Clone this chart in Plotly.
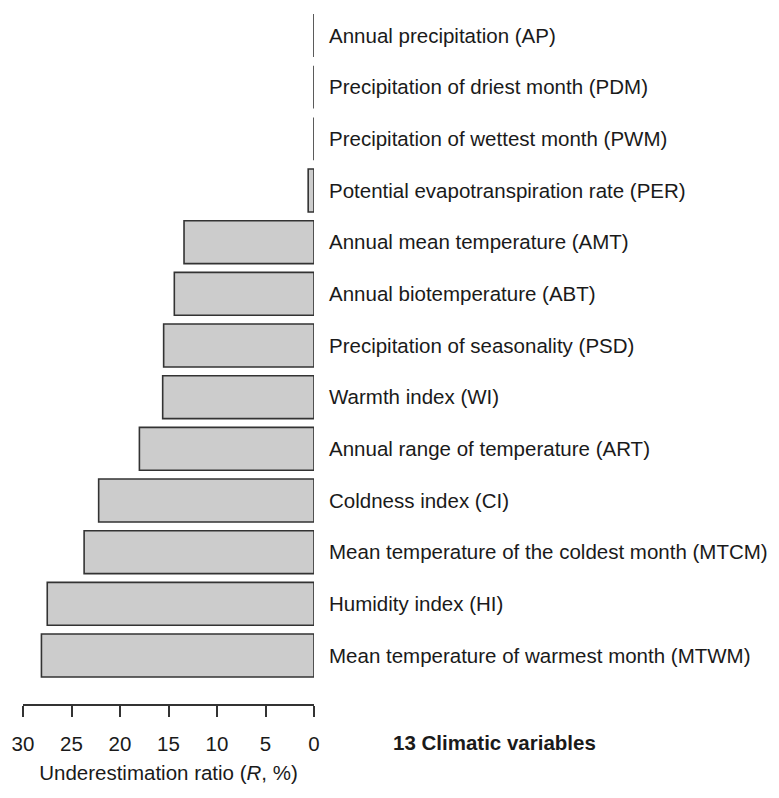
import plotly.graph_objects as go

# 13 climatic variables, top to bottom as in the figure
variables = [
    'Annual precipitation (AP)',
    'Precipitation of driest month (PDM)',
    'Precipitation of wettest month (PWM)',
    'Potential evapotranspiration rate (PER)',
    'Annual mean temperature (AMT)',
    'Annual biotemperature (ABT)',
    'Precipitation of seasonality (PSD)',
    'Warmth index (WI)',
    'Annual range of temperature (ART)',
    'Coldness index (CI)',
    'Mean temperature of the coldest month (MTCM)',
    'Humidity index (HI)',
    'Mean temperature of warmest month (MTWM)',
]
ratio = [0.0, 0.0, 0.0, 0.6, 13.4, 14.4, 15.5, 15.6, 18.0, 22.2, 23.7, 27.5, 28.1]
x_ticks = [30, 25, 20, 15, 10, 5, 0]

# plot bottom-up so the first variable sits on top
cats = variables[::-1]
vals = ratio[::-1]

# page has an 8px body margin, so the figure is a bit smaller than the window
W, H = 771, 790
L, B = 15, 94
FONT = 'Liberation Sans, Arial, sans-serif'
INK = '#1a1a1a'

fig = go.Figure()
fig.add_trace(go.Bar(
    x=vals,
    y=cats,
    orientation='h',
    width=0.83,
    marker=dict(color='#cccccc', line=dict(color='#333333', width=1.6)),
    hoverinfo='x+y',
))

plot_w = W - L
plot_h = H - B
fig.update_layout(
    width=W, height=H,
    margin=dict(l=L, r=0, t=0, b=B, autoexpand=False),
    plot_bgcolor='white',
    paper_bgcolor='white',
    showlegend=False,
    font=dict(family=FONT, size=20.5, color=INK),
    xaxis=dict(
        domain=[0, 291 / plot_w],
        range=[30, 0],
        tickvals=x_ticks,
        ticks='outside', ticklen=11, tickwidth=1.6, tickcolor='#333333',
        showline=True, linecolor='#333333', linewidth=1.6,
        showgrid=False, zeroline=False,
        ticklabelstandoff=10,
        title=dict(text='Underestimation ratio (<i>R</i>, %)', standoff=11,
                   font=dict(size=20.5)),
        automargin=False,
    ),
    yaxis=dict(
        type='category',
        categoryorder='array', categoryarray=cats,
        range=[-0.939, 12.532],
        side='right',
        showline=False, showgrid=False, zeroline=False,
        ticks='', ticklabelstandoff=14,
        automargin=False,
    ),
)

fig.add_annotation(
    text='<b>13 Climatic variables</b>',
    xref='paper', yref='paper',
    x=(486.5 - L) / plot_w, y=(plot_h - 734.7) / plot_h,
    xanchor='center', yanchor='middle',
    showarrow=False, font=dict(size=20.5, color=INK),
)

fig.write_html('out.html')
